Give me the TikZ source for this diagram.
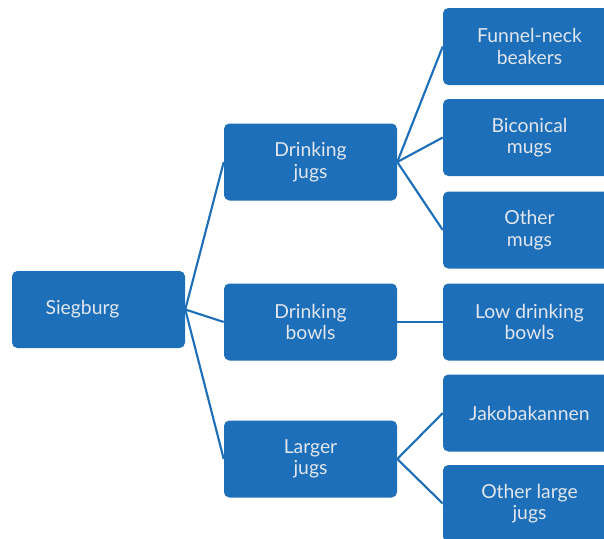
\documentclass[tikz,border=0pt]{standalone}
\usepackage{fontspec}
\setmainfont{Lato}
\usepackage{tikz}
\definecolor{boxblue}{RGB}{28,111,184}
\definecolor{boxtext}{RGB}{226,230,238}

\begin{document}
\begin{tikzpicture}[x=0.75pt, y=-0.75pt,
	main/.style = {draw=none, fill=boxblue, rounded corners=4pt, minimum width=129.75pt, minimum height=57.75pt, align=center, text=boxtext, font=\fontsize{14.5}{16}\selectfont, inner sep=0pt},
	link/.style = {draw=boxblue, line width=1.6pt}]
	\useasboundingbox (0,0) rectangle (604,539);
	\clip (0,0) rectangle (604,539);
	\node[main] (sieg) at (98.5,309.5) {Siegburg\hspace*{24pt}};
	\node[main] (jugs) at (310.5,162) {Drinking\\jugs};
	\node[main] (bowls) at (310.5,322) {Drinking\\bowls};
	\node[main] (large) at (310.5,459) {Larger\\jugs};
	\node[main] (funnel) at (529.5,46.5) {Funnel-neck\\beakers};
	\node[main] (bicon) at (529.5,137.5) {Biconical\\mugs};
	\node[main] (omugs) at (529.5,230) {Other\\mugs};
	\node[main] (low) at (529.5,322) {Low drinking\\bowls};
	\node[main] (jakob) at (529.5,413) {Jakobakannen};
	\node[main] (olarge) at (529.5,503.5) {Other large\\jugs};
	\draw[link] (sieg.east) -- (jugs.west);
	\draw[link] (sieg.east) -- (bowls.west);
	\draw[link] (sieg.east) -- (large.west);
	\draw[link] (jugs.east) -- (funnel.west);
	\draw[link] (jugs.east) -- (bicon.west);
	\draw[link] (jugs.east) -- (omugs.west);
	\draw[link] (bowls.east) -- (low.west);
	\draw[link] (large.east) -- (jakob.west);
	\draw[link] (large.east) -- (olarge.west);
\end{tikzpicture}
\end{document}
